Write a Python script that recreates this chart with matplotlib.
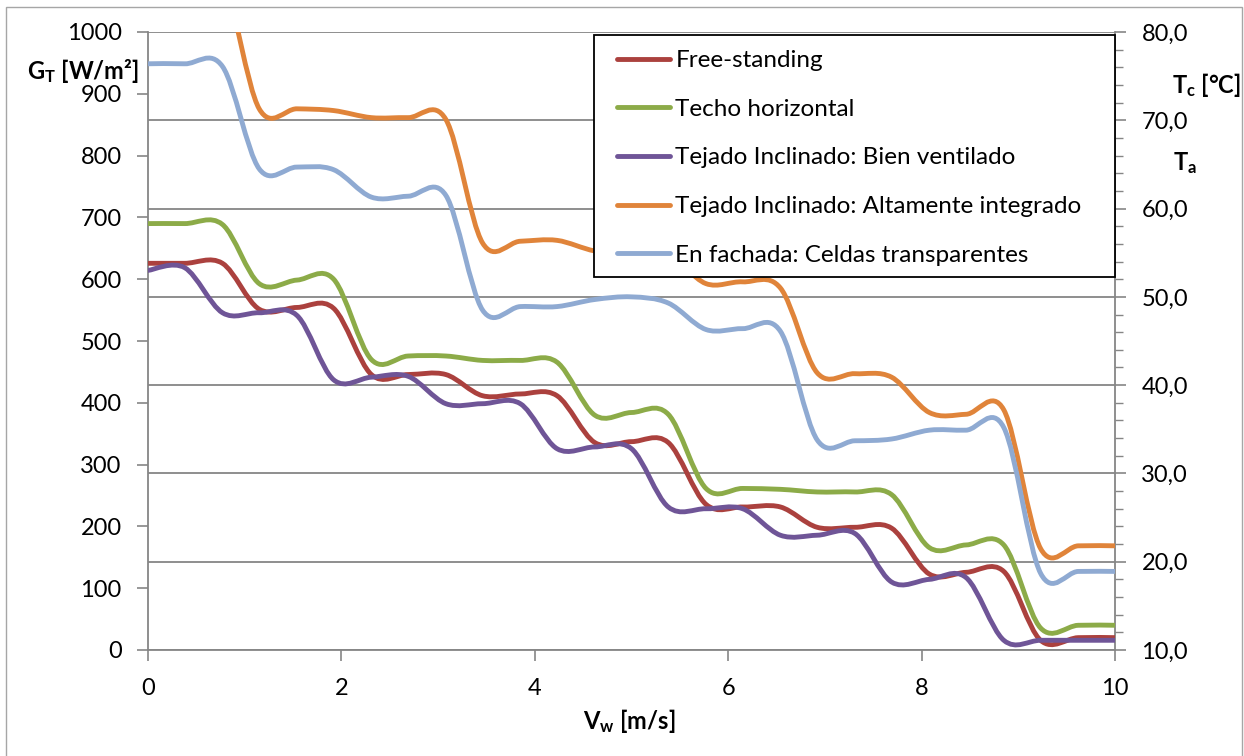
import numpy as np
import matplotlib
matplotlib.use("Agg")
import matplotlib.pyplot as plt
from matplotlib.path import Path
from matplotlib.patches import PathPatch, Rectangle
from matplotlib.lines import Line2D
from matplotlib.ticker import MultipleLocator, FuncFormatter

plt.rcParams['font.family'] = ['Lato', 'DejaVu Sans']
plt.rcParams['mathtext.fontset'] = 'custom'
plt.rcParams['mathtext.rm'] = 'Lato'
plt.rcParams['mathtext.bf'] = 'Lato:bold'
plt.rcParams['mathtext.it'] = 'Lato:italic'

# wind speed [m/s]
vw = [0, 0.38, 0.77, 1.15, 1.54, 1.92, 2.31, 2.69, 3.08, 3.46, 3.85, 4.23, 4.62, 5.0,
      5.38, 5.77, 6.15, 6.54, 6.92, 7.31, 7.69, 8.08, 8.46, 8.85, 9.23, 9.62, 10]

# cell temperature Tc [°C] per mounting type
free_standing = [53.8, 53.8, 53.8, 48.6, 48.8, 48.7, 41.2, 41.2, 41.2, 38.8, 39.0, 38.8, 33.5, 33.6,
                 33.5, 26.5, 26.2, 26.2, 23.9, 23.9, 23.8, 18.6, 18.8, 18.9, 11.1, 11.4, 11.4]
techo_horizontal = [58.3, 58.3, 58.2, 51.5, 51.9, 52.0, 42.9, 43.3, 43.3, 42.8, 42.8, 42.6, 36.6, 36.9,
                    36.7, 28.3, 28.3, 28.2, 27.9, 27.9, 27.6, 21.6, 21.9, 21.9, 12.5, 12.8, 12.8]
bien_ventilado = [53.0, 53.3, 48.2, 48.2, 47.9, 40.6, 40.9, 41.0, 37.9, 37.9, 37.9, 32.8, 33.0, 32.8,
                  26.2, 26.0, 26.0, 23.0, 23.0, 23.2, 17.7, 18.0, 18.2, 11.1, 11.1, 11.1, 11.1]
alt_integrado = [86.0, 86.0, 86.0, 71.3, 71.3, 71.1, 70.3, 70.3, 70.1, 56.1, 56.3, 56.4, 55.2, 54.9,
                 54.8, 51.5, 51.7, 51.0, 41.4, 41.3, 40.9, 36.9, 36.7, 37.2, 21.5, 21.8, 21.8]
fachada = [76.4, 76.4, 76.1, 64.5, 64.7, 64.4, 61.3, 61.4, 61.5, 48.5, 48.9, 48.9, 49.7, 50.0,
           49.3, 46.3, 46.4, 46.1, 33.8, 33.7, 33.9, 34.9, 34.9, 35.2, 18.7, 18.9, 18.9]

series = [
    ('Free-standing', free_standing, '#AB413E'),
    ('Techo horizontal', techo_horizontal, '#8CAB48'),
    ('Tejado Inclinado: Bien ventilado', bien_ventilado, '#6F5597'),
    ('Tejado Inclinado: Altamente integrado', alt_integrado, '#E0843A'),
    ('En fachada: Celdas transparentes', fachada, '#8FAAD2'),
]

GREY = '#868686'
W, H = 1244, 756


def smooth_path(x, y):
    # spreadsheet-style smoothed line: cubic bezier with 1/6 tangents
    p = np.column_stack([x, y]).astype(float)
    n = len(p)
    verts = [p[0]]
    codes = [Path.MOVETO]
    for i in range(n - 1):
        p0 = p[i - 1] if i > 0 else p[i]
        p1, p2 = p[i], p[i + 1]
        p3 = p[i + 2] if i + 2 < n else p[i + 1]
        verts += [p1 + (p2 - p0) / 6, p2 - (p3 - p1) / 6, p2]
        codes += [Path.CURVE4] * 3
    return Path(verts, codes)


fig = plt.figure(figsize=(W / 100, H / 100), dpi=100)
ax = fig.add_axes([148 / W, 1 - 650 / H, (1115 - 148) / W, (650 - 32) / H])
ax2 = ax.twinx()

ax.set_xlim(0, 10)
ax.set_ylim(0, 1000)
ax2.set_ylim(10, 80)

for a in (ax, ax2):
    a.spines['top'].set_visible(False)
    for s in ('left', 'right', 'bottom'):
        a.spines[s].set_color(GREY)
        a.spines[s].set_linewidth(1.3)
ax.spines['right'].set_visible(False)
ax2.spines['left'].set_visible(False)
ax2.spines['bottom'].set_visible(False)

ax.xaxis.set_major_locator(MultipleLocator(2))
ax.yaxis.set_major_locator(MultipleLocator(100))
ax2.yaxis.set_major_locator(MultipleLocator(10))
ax2.yaxis.set_minor_locator(MultipleLocator(2))
ax2.yaxis.set_major_formatter(FuncFormatter(lambda v, p: f'{v:.1f}'.replace('.', ',')))

ax.tick_params(axis='x', direction='out', length=8, width=1.2, color=GREY, labelsize=17, pad=12)
ax.tick_params(axis='y', direction='out', length=8, width=1.2, color=GREY, labelsize=17, pad=11)
ax2.tick_params(axis='y', which='major', direction='out', length=8, width=1.2, color=GREY,
                labelsize=17, pad=11)
ax2.tick_params(axis='y', which='minor', direction='out', length=6, width=1.0, color=GREY)

ax2.set_axisbelow(True)
ax2.grid(axis='y', which='major', color=GREY, linewidth=1.3)

handles = []
for label, vals, color in series:
    patch = PathPatch(smooth_path(vw, vals), facecolor='none', edgecolor=color,
                      linewidth=3.5, capstyle='round', joinstyle='round', zorder=3)
    ax2.add_patch(patch)
    handles.append(Line2D([], [], color=color, linewidth=3.5, solid_capstyle='round', label=label))

# legend box drawn on its own so the padding can be set per side
box = Rectangle((594 / W, 1 - 277 / H), (1115 - 594) / W, (277 - 35) / H, transform=fig.transFigure,
                facecolor='white', edgecolor='black', linewidth=1.3, zorder=4)
ax2.add_artist(box)
box.set_clip_on(False)
leg = ax2.legend(handles=handles, loc='upper left', bbox_to_anchor=(617 / W, 1 - 50 / H),
                 bbox_transform=fig.transFigure, fontsize=17.5, frameon=False, borderpad=0,
                 labelspacing=1.14, handlelength=2.2, handletextpad=0.2, borderaxespad=0)
leg.set_zorder(5)

# axis titles
fig.text(139 / W, 1 - 79 / H, r'$\mathbf{G_T}$ [W/m²]', ha='right', va='baseline',
         fontsize=17, fontweight='bold')
fig.text(1172 / W, 1 - 93 / H, r'$\mathbf{T_c}$ [°C]', ha='left', va='baseline',
         fontsize=17, fontweight='bold')
fig.text(1173 / W, 1 - 170 / H, r'$\mathbf{T_a}$', ha='left', va='baseline',
         fontsize=17, fontweight='bold')
fig.text(583 / W, 1 - 729 / H, r'$\mathbf{V_w}$ [m/s]', ha='left', va='baseline',
         fontsize=17, fontweight='bold')

# chart area border
fig.patches.append(Rectangle((6 / W, -0.01), (1242 - 6) / W, 1.01 - 7 / H, transform=fig.transFigure,
                             fill=False, edgecolor='#A6A6A6', linewidth=1.0))

fig.savefig('out.png', dpi=100)
